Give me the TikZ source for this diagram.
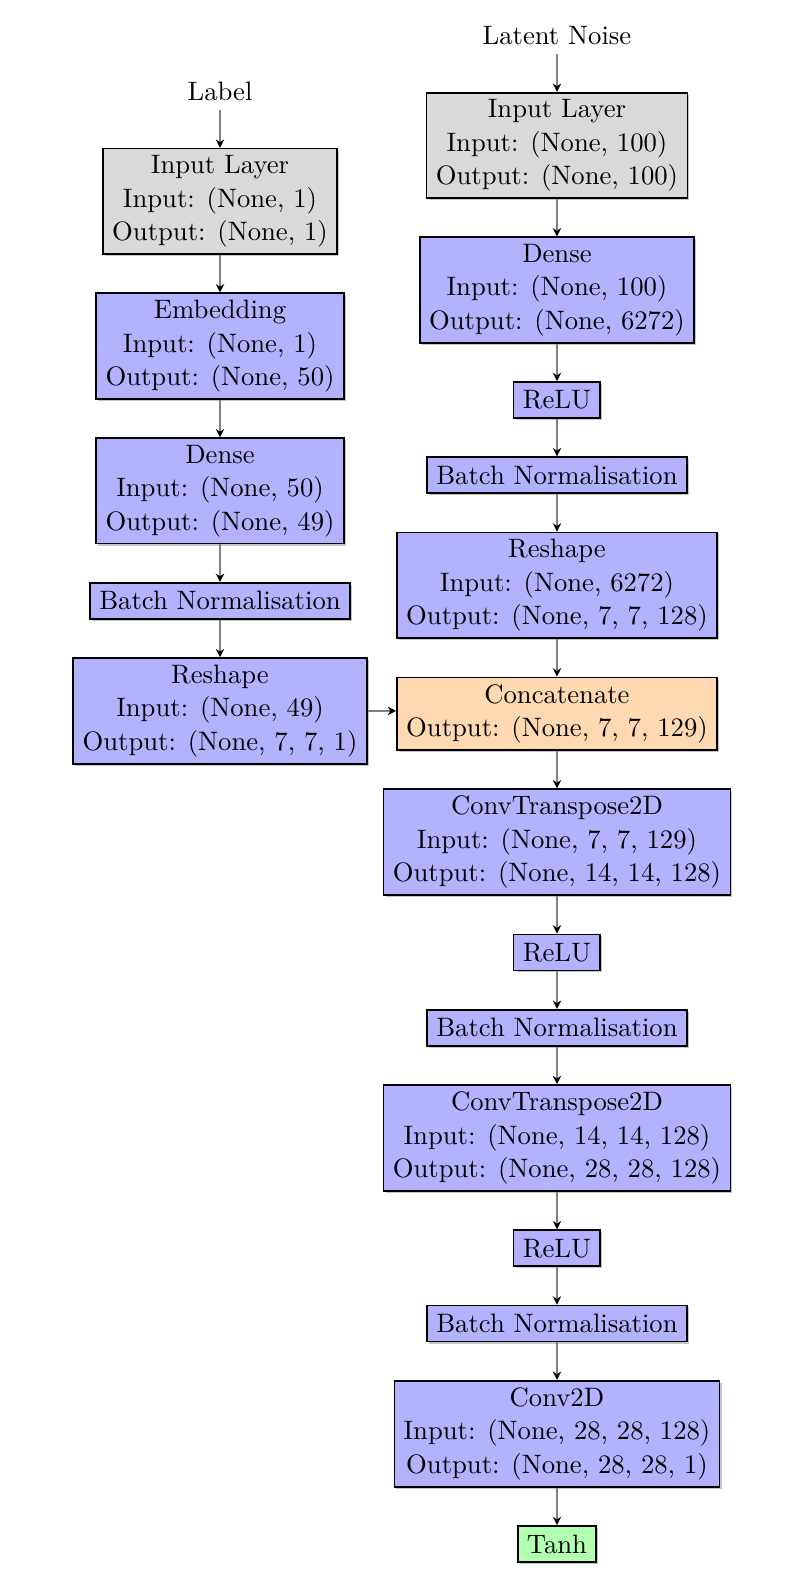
\documentclass[tikz,border=0pt]{standalone}
\usepackage{tikz}
\usetikzlibrary{arrows.meta,positioning,shadows}

\begin{document}
\begin{tikzpicture}[
    node distance=13.5pt,
    every node/.style={align=center, font=\fontsize{9.6pt}{12pt}\selectfont},
    layer/.style={draw, semithick, fill=blue!30, inner ysep=2.5pt, minimum height=13pt, drop shadow={shadow xshift=0.7pt, shadow yshift=-0.7pt, opacity=0.45}},
    inlayer/.style={layer, fill=black!15},
    merge/.style={layer, fill=orange!30},
    outlayer/.style={layer, fill=green!30},
    arrow/.style={-{Stealth[length=3pt, width=3pt, black]}, line width=0.7pt, black!50}
]
    \useasboundingbox (0,0) rectangle (290.2pt,-569.5pt);

    % label branch
    \node (labelin) at (79.2pt,-32.8pt) {Label};
    \node[inlayer, below=of labelin] (linput) {Input Layer\\Input: (None, 1)\\Output: (None, 1)};
    \node[layer, below=of linput] (lembed) {Embedding\\Input: (None, 1)\\Output: (None, 50)};
    \node[layer, below=of lembed] (ldense) {Dense\\Input: (None, 50)\\Output: (None, 49)};
    \node[layer, below=of ldense] (lbn) {Batch Normalisation};
    \node[layer, below=of lbn] (lreshape) {Reshape\\Input: (None, 49)\\Output: (None, 7, 7, 1)};

    % noise branch
    \node (noise) at (200.5pt,-12.7pt) {Latent Noise};
    \node[inlayer, below=of noise] (ninput) {Input Layer\\Input: (None, 100)\\Output: (None, 100)};
    \node[layer, below=of ninput] (ndense) {Dense\\Input: (None, 100)\\Output: (None, 6272)};
    \node[layer, below=of ndense] (relua) {ReLU};
    \node[layer, below=of relua] (bna) {Batch Normalisation};
    \node[layer, below=of bna] (nreshape) {Reshape\\Input: (None, 6272)\\Output: (None, 7, 7, 128)};

    % generator body
    \node[merge, below=of nreshape] (concat) {Concatenate\\Output: (None, 7, 7, 129)};
    \node[layer, below=of concat] (convta) {ConvTranspose2D\\Input: (None, 7, 7, 129)\\Output: (None, 14, 14, 128)};
    \node[layer, below=of convta] (relub) {ReLU};
    \node[layer, below=of relub] (bnb) {Batch Normalisation};
    \node[layer, below=of bnb] (convtb) {ConvTranspose2D\\Input: (None, 14, 14, 128)\\Output: (None, 28, 28, 128)};
    \node[layer, below=of convtb] (reluc) {ReLU};
    \node[layer, below=of reluc] (bnc) {Batch Normalisation};
    \node[layer, below=of bnc] (conv) {Conv2D\\Input: (None, 28, 28, 128)\\Output: (None, 28, 28, 1)};
    \node[outlayer, below=of conv] (tanh) {Tanh};

    \draw[arrow] (labelin) -- (linput);
    \draw[arrow] (linput) -- (lembed);
    \draw[arrow] (lembed) -- (ldense);
    \draw[arrow] (ldense) -- (lbn);
    \draw[arrow] (lbn) -- (lreshape);
    \draw[arrow] (lreshape.east) -- (lreshape.east -| concat.west);

    \draw[arrow] (noise) -- (ninput);
    \draw[arrow] (ninput) -- (ndense);
    \draw[arrow] (ndense) -- (relua);
    \draw[arrow] (relua) -- (bna);
    \draw[arrow] (bna) -- (nreshape);
    \draw[arrow] (nreshape) -- (concat);
    \draw[arrow] (concat) -- (convta);
    \draw[arrow] (convta) -- (relub);
    \draw[arrow] (relub) -- (bnb);
    \draw[arrow] (bnb) -- (convtb);
    \draw[arrow] (convtb) -- (reluc);
    \draw[arrow] (reluc) -- (bnc);
    \draw[arrow] (bnc) -- (conv);
    \draw[arrow] (conv) -- (tanh);
\end{tikzpicture}
\end{document}
